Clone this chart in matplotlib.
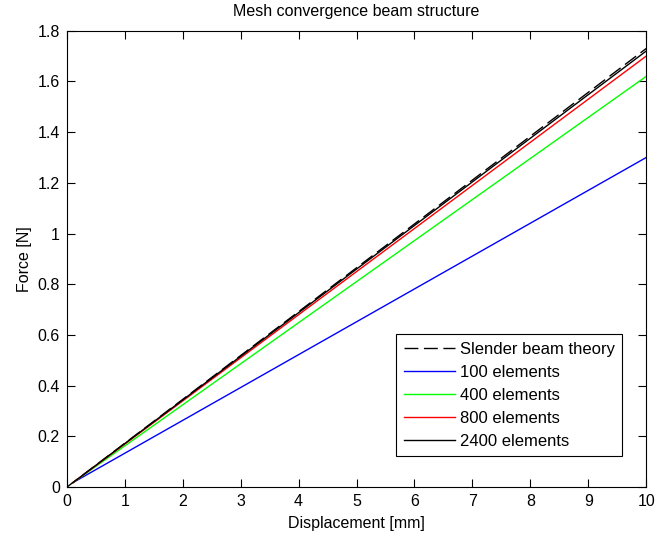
import matplotlib
matplotlib.use("Agg")
import matplotlib.pyplot as plt

plt.rcParams['font.family'] = ['Liberation Sans', 'DejaVu Sans']

# Data
x_theory = [0.0, 10.0]
y_theory = [0.0, 1.73]
x_fe = [0.1, 10.0]
y_100 = [0.017, 1.30]
y_400 = [0.017, 1.62]
y_800 = [0.017, 1.70]
y_2400 = [0.017, 1.72]

labels = ['Slender beam theory', '100 elements', '400 elements', '800 elements', '2400 elements']
xticks = list(range(0, 11))
yticks = [0, 0.2, 0.4, 0.6, 0.8, 1, 1.2, 1.4, 1.6, 1.8]
ytick_labels = ['0', '0.2', '0.4', '0.6', '0.8', '1', '1.2', '1.4', '1.6', '1.8']

FS = 11.5

fig = plt.figure(figsize=(6.56, 5.40), dpi=100)
ax = fig.add_axes([0.102, 0.098, 0.883, 0.845])

ax.plot(x_theory, y_theory, color='black', ls=(0, (10, 4)), lw=1.0, label=labels[0])
ax.plot(x_fe, y_100, color='#0000ff', lw=1.0, label=labels[1])
ax.plot(x_fe, y_400, color='#00ff00', lw=1.0, label=labels[2])
ax.plot(x_fe, y_800, color='#ff0000', lw=1.0, label=labels[3])
ax.plot(x_fe, y_2400, color='black', lw=1.0, label=labels[4])

ax.set_xlim(0, 10)
ax.set_ylim(0, 1.8)
ax.set_xticks(xticks)
ax.set_xticklabels([str(t) for t in xticks])
ax.set_yticks(yticks)
ax.set_yticklabels(ytick_labels)
ax.tick_params(direction='in', top=True, right=True, length=6, labelsize=FS, pad=5)
for s in ax.spines.values():
    s.set_linewidth(0.8)

ax.set_xlabel('Displacement [mm]', fontsize=FS, labelpad=5)
ax.set_ylabel('Force [N]', fontsize=FS, labelpad=4)
ax.set_title('Mesh convergence beam structure', fontsize=FS, pad=11)

leg = ax.legend(loc='lower right', bbox_to_anchor=(0.9585, 0.068), fontsize=12,
                frameon=True, fancybox=False, edgecolor='black', framealpha=1,
                handlelength=3.05, handletextpad=0.3, labelspacing=0.48,
                borderpad=0.45, borderaxespad=0)
leg.get_frame().set_linewidth(0.8)

fig.savefig('out.png', dpi=100)
